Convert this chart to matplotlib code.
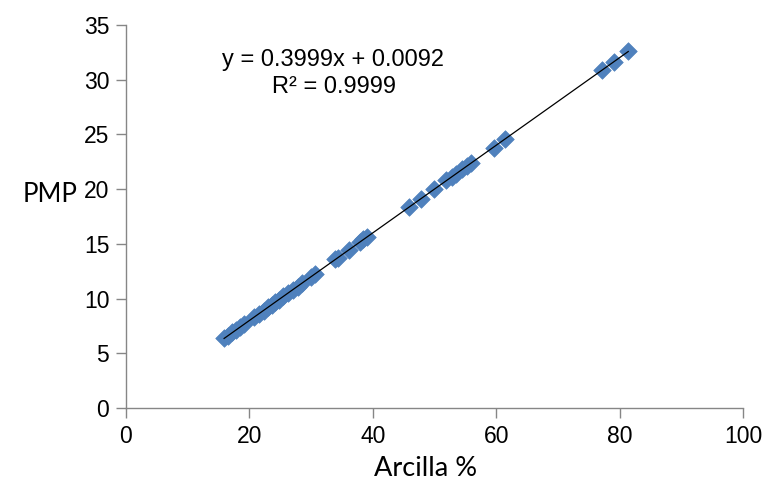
import matplotlib
matplotlib.use("Agg")
import matplotlib.pyplot as plt
import numpy as np

arcilla = [15.9, 16.5, 17.2, 17.8, 18.5, 19.2,
           20.8, 21.5, 22.3, 23.0, 23.6, 24.2, 24.8, 25.5, 26.2, 27.0, 27.8, 28.5,
           30.0, 30.6, 33.9, 34.3, 36.1, 38.0, 38.4, 39.1,
           45.9, 47.8, 49.9, 51.9, 52.8, 53.5, 54.4, 55.2, 55.9,
           59.6, 61.4, 77.2, 79.1, 81.4]
pmp = [6.4, 6.6, 6.9, 7.1, 7.4, 7.7,
       8.3, 8.6, 8.9, 9.2, 9.4, 9.7, 9.9, 10.2, 10.5, 10.8, 11.1, 11.4,
       12.0, 12.2, 13.6, 13.7, 14.4, 15.2, 15.4, 15.6,
       18.4, 19.1, 20.0, 20.8, 21.1, 21.4, 21.8, 22.1, 22.4,
       23.8, 24.6, 30.9, 31.6, 32.6]

x_ticks = [0, 20, 40, 60, 80, 100]
y_ticks = [0, 5, 10, 15, 20, 25, 30, 35]
eq_line1 = "y = 0.3999x + 0.0092"
eq_line2 = "R² = 0.9999"

fig = plt.figure(figsize=(7.68, 4.87), dpi=100)
ax = fig.add_axes([126/768, 1 - 408/487, (743 - 126)/768, (408 - 25)/487])

ax.scatter(arcilla, pmp, marker='D', s=80, color='#4F81BD', edgecolors='#4F81BD',
           linewidths=0.5, zorder=2)

coef = np.polyfit(arcilla, pmp, 1)
xl = np.array([min(arcilla), max(arcilla)])
ax.plot(xl, coef[0] * xl + coef[1], color='black', lw=0.9, zorder=3)

ax.set_xlim(0, 100)
ax.set_ylim(0, 35)
ax.set_xticks(x_ticks)
ax.set_yticks(y_ticks)

for s in ['top', 'right']:
    ax.spines[s].set_visible(False)
for s in ['left', 'bottom']:
    ax.spines[s].set_color('#868686')
    ax.spines[s].set_linewidth(1.0)

ax.tick_params(axis='both', direction='out', length=7, color='#868686', width=1,
               labelcolor='black', pad=5)
for lab in ax.get_xticklabels() + ax.get_yticklabels():
    lab.set_fontfamily('Liberation Sans')
    lab.set_fontsize(16.5)

fig.text(50/768, 1 - 194/487, 'PMP', ha='center', va='center',
         fontsize=18.5, family='Lato')
fig.text(426/768, 1 - 469/487, 'Arcilla %', ha='center', va='center',
         fontsize=19.5, family='Lato')

fig.text(333/768, 1 - 60/487, eq_line1, ha='center', va='center',
         fontsize=17, family='Liberation Sans')
fig.text(334/768, 1 - 87/487, eq_line2, ha='center', va='center',
         fontsize=17, family='Liberation Sans')

fig.savefig('out.png', dpi=100)
